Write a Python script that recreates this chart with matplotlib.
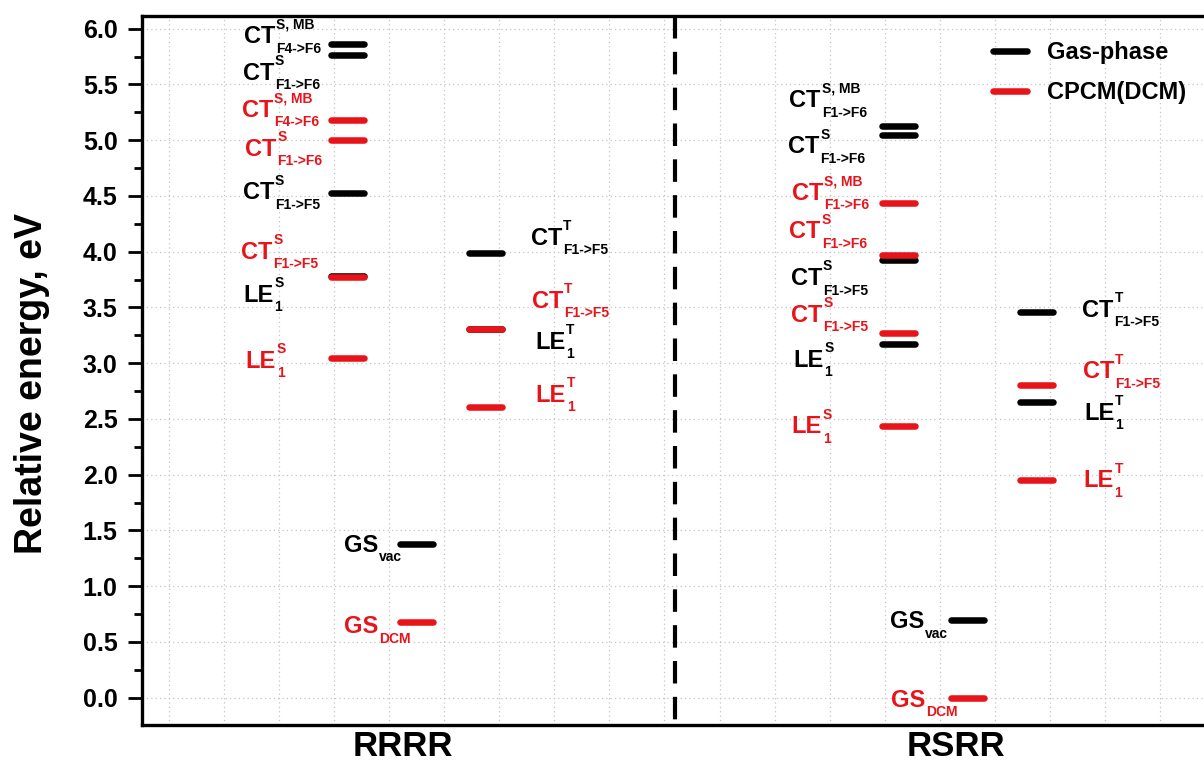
'''
Energy level diagram: RRRR vs RSRR, gas phase vs CPCM(DCM)
'''

import numpy as np
import matplotlib
matplotlib.use('Agg')
import matplotlib.pyplot as plt
from matplotlib.lines import Line2D
from matplotlib.ticker import MultipleLocator, FormatStrFormatter

plt.rcParams['font.family'] = ['Liberation Sans', 'DejaVu Sans']
plt.rcParams['font.weight'] = 'bold'

# ---- data (eV) ----
conformers = ['RRRR', 'RSRR']

# singlet column: CT(S,MB), CT(S) F1->F6, CT(S) F1->F5, LE(S)1
rrrr_gas_S = [5.86, 5.76, 4.53, 3.78]
rrrr_dcm_S = [5.18, 5.00, 3.77, 3.05]
rsrr_gas_S = [5.13, 5.05, 3.93, 3.17]
rsrr_dcm_S = [4.44, 3.97, 3.27, 2.44]

# ground states
rrrr_gas_GS = [1.38]
rrrr_dcm_GS = [0.68]
rsrr_gas_GS = [0.70]
rsrr_dcm_GS = [0.00]

# triplet column: CT(T) F1->F5, LE(T)1
rrrr_gas_T = [3.99, 3.31]
rrrr_dcm_T = [3.31, 2.61]
rsrr_gas_T = [3.46, 2.655]
rsrr_dcm_T = [2.80, 1.95]

# state labels: (main, superscript, subscript)
rrrr_S_names = [('CT', 'S, MB', 'F4->F6'), ('CT', 'S', 'F1->F6'),
                ('CT', 'S', 'F1->F5'), ('LE', 'S', '1')]
rsrr_S_names = [('CT', 'S, MB', 'F1->F6'), ('CT', 'S', 'F1->F6'),
                ('CT', 'S', 'F1->F5'), ('LE', 'S', '1')]
gas_GS_names = [('GS', '', 'vac')]
dcm_GS_names = [('GS', '', 'DCM')]
T_names = [('CT', 'T', 'F1->F5'), ('LE', 'T', '1')]

# ---- layout ----
col_x = {'RRRR': (4.25, 5.5, 6.75), 'RSRR': (14.25, 15.5, 16.75)}
half_len = 0.30
divider_x = 10.19

# label baseline anchors (x, y) in data units
lab_rrrr_gas_S = [(2.36, 5.87), (2.34, 5.54), (2.34, 4.47), (2.35, 3.55)]
lab_rrrr_dcm_S = [(2.32, 5.21), (2.38, 4.86), (2.31, 3.935), (2.39, 2.96)]
lab_rrrr_gas_GS = [(4.17, 1.31)]
lab_rrrr_dcm_GS = [(4.18, 0.578)]
lab_rrrr_gas_T = [(7.57, 4.06), (7.65, 3.127)]
lab_rrrr_dcm_T = [(7.59, 3.498), (7.66, 2.655)]
lab_rsrr_gas_S = [(12.27, 5.295), (12.25, 4.883), (12.29, 3.70), (12.34, 2.97)]
lab_rsrr_dcm_S = [(12.32, 4.464), (12.27, 4.12), (12.30, 3.372), (12.31, 2.371)]
lab_rsrr_gas_GS = [(14.09, 0.622)]
lab_rsrr_dcm_GS = [(14.11, -0.081)]
lab_rsrr_gas_T = [(17.59, 3.417), (17.62, 2.491)]
lab_rsrr_dcm_T = [(17.60, 2.865), (17.61, 1.887)]

GAS = 'black'
DCM = '#e8141a'
BAR_LW = 4.7
MAIN_FS = 17
SMALL_FS = 10

fig = plt.figure(figsize=(12.04, 7.61), dpi=100)
ax = fig.add_axes([141.5 / 1204, 36 / 761, (1215 - 141.5) / 1204, 709 / 761])


def draw_levels(xc, energies, color):
    e = np.asarray(energies, dtype=float)
    ax.hlines(e, xc - half_len, xc + half_len, colors=color,
              linewidth=BAR_LW, capstyle='round', zorder=3)


def level_label(pos, name, color):
    main, sup, sub = name
    x, y = pos
    t = ax.text(x, y, main, color=color, fontsize=MAIN_FS, fontweight='bold',
                ha='left', va='baseline', zorder=4)
    # bbox bottom sits one "p" descent under the baseline
    desc = 0.212 * MAIN_FS
    if sup:
        ax.annotate(sup, xy=(1, 0), xycoords=t, xytext=(0.6, desc + 10.6),
                    textcoords='offset points', color=color, fontsize=SMALL_FS,
                    fontweight='bold', ha='left', va='baseline')
    if sub:
        ax.annotate(sub, xy=(1, 0), xycoords=t, xytext=(0.6, desc - 6.8),
                    textcoords='offset points', color=color, fontsize=SMALL_FS,
                    fontweight='bold', ha='left', va='baseline')


groups = [
    ('RRRR', 0, rrrr_gas_S, rrrr_dcm_S, rrrr_S_names, lab_rrrr_gas_S, lab_rrrr_dcm_S),
    ('RRRR', 1, rrrr_gas_GS, rrrr_dcm_GS, None, lab_rrrr_gas_GS, lab_rrrr_dcm_GS),
    ('RRRR', 2, rrrr_gas_T, rrrr_dcm_T, T_names, lab_rrrr_gas_T, lab_rrrr_dcm_T),
    ('RSRR', 0, rsrr_gas_S, rsrr_dcm_S, rsrr_S_names, lab_rsrr_gas_S, lab_rsrr_dcm_S),
    ('RSRR', 1, rsrr_gas_GS, rsrr_dcm_GS, None, lab_rsrr_gas_GS, lab_rsrr_dcm_GS),
    ('RSRR', 2, rsrr_gas_T, rsrr_dcm_T, T_names, lab_rsrr_gas_T, lab_rsrr_dcm_T),
]

for conf, col, gas, dcm, names, lab_gas, lab_dcm in groups:
    xc = col_x[conf][col]
    draw_levels(xc, gas, GAS)
    draw_levels(xc, dcm, DCM)
    gas_names = names if names else gas_GS_names
    dcm_names = names if names else dcm_GS_names
    for p, n in zip(lab_gas, gas_names):
        level_label(p, n, GAS)
    for p, n in zip(lab_dcm, dcm_names):
        level_label(p, n, DCM)

# divider between the two conformers
div = ax.axvline(divider_x, color='black', linewidth=3.0, dashes=(5.4, 3.2), zorder=2)
div.set_ydata([1, 0])

ax.set_xlim(0.5, 20.0)
ax.set_ylim(-0.245, 6.114)

ax.yaxis.set_major_locator(MultipleLocator(0.5))
ax.yaxis.set_minor_locator(MultipleLocator(0.25))
ax.yaxis.set_major_formatter(FormatStrFormatter('%.1f'))
ax.set_xticks([5.25, 15.3])
ax.set_xticklabels(conformers)
ax.set_xticks(np.arange(1, 20), minor=True)

ax.tick_params(axis='y', which='major', direction='out', length=10, width=2.0,
               labelsize=18, pad=7.2)
ax.tick_params(axis='y', which='minor', direction='out', length=5.5, width=2.0)
ax.tick_params(axis='x', which='both', length=0, labelsize=25, pad=3.5)
for lab in ax.get_xticklabels() + ax.get_yticklabels():
    lab.set_fontweight('bold')

ax.grid(which='major', axis='y', color='#c4c4c4', linestyle=(0, (1, 2.5)), linewidth=0.9)
ax.grid(which='minor', axis='x', color='#c4c4c4', linestyle=(0, (1, 2.5)), linewidth=0.9)
ax.set_axisbelow(True)

for s in ax.spines.values():
    s.set_linewidth(2.4)

ax.set_ylabel('Relative energy, eV', fontsize=27, fontweight='bold')
ax.yaxis.set_label_coords(-0.0852, 0.481)

handles = [Line2D([], [], color=GAS, linewidth=BAR_LW, solid_capstyle='round'),
           Line2D([], [], color=DCM, linewidth=BAR_LW, solid_capstyle='round')]
ax.legend(handles, ['Gas-phase', 'CPCM(DCM)'], loc='upper left',
          bbox_to_anchor=(0.793, 0.965), frameon=False, borderpad=0,
          borderaxespad=0, handlelength=1.45, handletextpad=0.85,
          labelspacing=0.74, prop={'size': 17, 'weight': 'bold'})

fig.savefig('out.png', dpi=100)
